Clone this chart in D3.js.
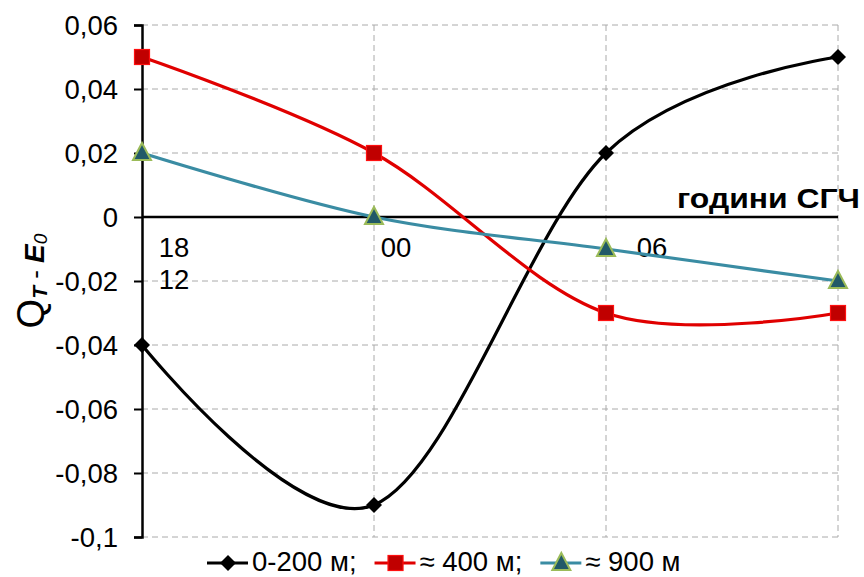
<!DOCTYPE html>
<html lang="bg">
    <head>
        <meta charset="utf-8">
        <title>Q_T - E_0</title>
        <script src="https://cdn.jsdelivr.net/npm/d3@7/dist/d3.min.js"></script>
        <style>
            body { margin: 0; background: #fff; }
            text { font-family: "Liberation Sans", Arial, sans-serif; }
        </style>
    </head>
    <body>
        <script type="text/javascript">

            // data
            var categories = ["12", "18", "00", "06"];
            var seriesNames = ["0-200 м;", "≈ 400 м;", "≈ 900 м"];
            var black = [-0.04, -0.09, 0.02, 0.05];
            var red = [0.05, 0.02, -0.03, -0.03];
            var teal = [0.02, 0, -0.01, -0.02];
            var yTicks = [0.06, 0.04, 0.02, 0, -0.02, -0.04, -0.06, -0.08, -0.1];
            var yTickLabels = ["0,06", "0,04", "0,02", "0", "-0,02", "-0,04", "-0,06", "-0,08", "-0,1"];
            // hour labels under the zero line: [text, category index, row]
            var hourLabels = [["18", 0, 0], ["12", 0, 1], ["00", 1, 0], ["06", 2, 0]];
            var hourOffsets = [32, 32, 22, 46];

            var w = 864;
            var h = 577;
            var fs = 27.5;

            var svg = d3.select("body")
                .append("svg")
                .attr("width", w)
                .attr("height", h);

            var x = d3.scalePoint()
                .domain(categories)
                .range([142, 838]);

            var y = d3.scaleLinear()
                .domain([-0.1, 0.06])
                .range([537, 25]);

            // grid lines
            svg.append("g").selectAll("line")
                .data(yTicks)
                .enter()
                .append("line")
                .attr("x1", 142).attr("x2", 838)
                .attr("y1", function(d) { return y(d); })
                .attr("y2", function(d) { return y(d); })
                .attr("stroke", "#aaa")
                .attr("stroke-width", 1)
                .attr("stroke-dasharray", "6,4");

            svg.append("g").selectAll("line")
                .data(categories.slice(1))
                .enter()
                .append("line")
                .attr("x1", function(d) { return x(d); })
                .attr("x2", function(d) { return x(d); })
                .attr("y1", 25).attr("y2", 537)
                .attr("stroke", "#aaa")
                .attr("stroke-width", 1)
                .attr("stroke-dasharray", "6,4");

            // y axis
            var yAxis = d3.axisLeft(y)
                .tickValues(yTicks)
                .tickSize(8)
                .tickFormat(function(d, i) { return yTickLabels[i]; });

            var gy = svg.append("g")
                .attr("transform", "translate(142,0)")
                .call(yAxis);
            gy.select(".domain").attr("stroke", "#000").attr("stroke-width", 2.5);
            gy.selectAll(".tick line").attr("stroke", "#000").attr("stroke-width", 2);
            gy.selectAll(".tick text")
                .attr("font-size", fs)
                .attr("fill", "#000")
                .attr("x", -24)
                .attr("dy", "0.36em")
                .style("font-family", "Liberation Sans, Arial, sans-serif");

            // zero line
            svg.append("line")
                .attr("x1", 142).attr("x2", 838)
                .attr("y1", y(0)).attr("y2", y(0))
                .attr("stroke", "#000")
                .attr("stroke-width", 2.5);

            svg.selectAll(".hour")
                .data(hourLabels)
                .enter()
                .append("text")
                .attr("class", "hour")
                .attr("x", function(d, i) { return x(categories[d[1]]) + hourOffsets[i]; })
                .attr("y", function(d) { return y(0) + 40 + d[2] * 32; })
                .attr("text-anchor", "middle")
                .attr("font-size", fs)
                .text(function(d) { return d[0]; });

            svg.append("text")
                .attr("x", 677)
                .attr("y", 208)
                .attr("font-size", 28)
                .attr("font-weight", "bold")
                .attr("textLength", 183)
                .attr("lengthAdjust", "spacingAndGlyphs")
                .text("години СГЧ");

            // y axis title
            var title = svg.append("text")
                .attr("transform", "translate(44,281) rotate(-90)")
                .attr("text-anchor", "middle");
            title.append("tspan").attr("font-size", 38).text("Q");
            title.append("tspan").attr("font-size", 21).attr("font-style", "italic")
                .attr("font-weight", "bold").attr("dy", 3).text("T");
            title.append("tspan").attr("font-size", 26).attr("dy", -3).text(" - ");
            title.append("tspan").attr("font-size", 28).attr("font-style", "italic")
                .attr("font-weight", "bold").text("E");
            title.append("tspan").attr("font-size", 19).attr("font-style", "italic")
                .attr("dy", 3).text("0");

            // lines, Excel style smoothing
            var line = d3.line()
                .x(function(d, i) { return x(categories[i]); })
                .y(function(d) { return y(d); })
                .curve(d3.curveCardinal.tension(0));

            var series = [
                { name: seriesNames[0], values: black, color: "#000000", marker: "diamond" },
                { name: seriesNames[1], values: red, color: "#e00000", marker: "square" },
                { name: seriesNames[2], values: teal, color: "#3a8ca3", marker: "triangle" }
            ];

            function marker(g, type, cx, cy) {
                if (type === "diamond") {
                    g.append("path")
                        .attr("d", "M" + cx + "," + (cy - 8) + "L" + (cx + 8) + "," + cy + "L" + cx + "," + (cy + 8) + "L" + (cx - 8) + "," + cy + "Z")
                        .attr("fill", "#000");
                } else if (type === "square") {
                    g.append("rect")
                        .attr("x", cx - 7.5).attr("y", cy - 7.5)
                        .attr("width", 15).attr("height", 15)
                        .attr("fill", "#c00000")
                        .attr("stroke", "#ff1010")
                        .attr("stroke-width", 1.2);
                } else {
                    g.append("path")
                        .attr("d", "M" + cx + "," + (cy - 10) + "L" + (cx + 9) + "," + (cy + 7) + "L" + (cx - 9) + "," + (cy + 7) + "Z")
                        .attr("fill", "#215968")
                        .attr("stroke", "#9bbb59")
                        .attr("stroke-width", 2);
                }
            }

            series.forEach(function(s) {
                svg.append("path")
                    .attr("d", line(s.values))
                    .attr("fill", "none")
                    .attr("stroke", s.color)
                    .attr("stroke-width", 3.2);
            });

            series.forEach(function(s) {
                var g = svg.append("g");
                s.values.forEach(function(v, i) {
                    marker(g, s.marker, x(categories[i]), y(v));
                });
            });

            // legend
            var lx = 207;
            series.forEach(function(s, i) {
                var g = svg.append("g");
                g.append("line")
                    .attr("x1", lx).attr("x2", lx + 41)
                    .attr("y1", 563).attr("y2", 563)
                    .attr("stroke", s.color)
                    .attr("stroke-width", 3.2);
                marker(g, s.marker, lx + 21, 563);
                var t = g.append("text")
                    .attr("x", lx + 45)
                    .attr("y", 571)
                    .attr("font-size", fs)
                    .text(s.name);
                lx = lx + 45 + t.node().getComputedTextLength() + 18;
            });

        </script>
    </body>
</html>
